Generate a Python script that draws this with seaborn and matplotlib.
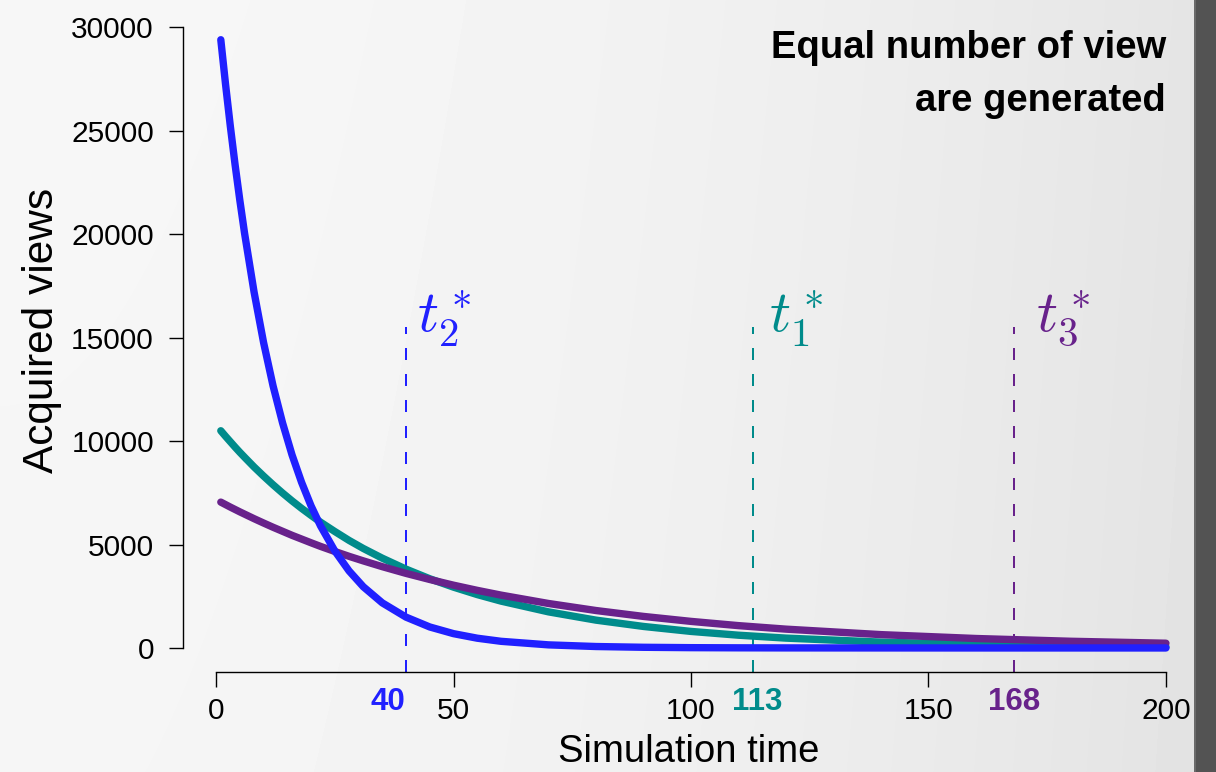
import numpy as np
import pandas as pd
import matplotlib
matplotlib.use("Agg")
import matplotlib.pyplot as plt
from matplotlib.patches import Rectangle
from matplotlib.transforms import blended_transform_factory
import seaborn as sns

# ---- data -------------------------------------------------------------
time = [1, 2, 3, 4, 5, 6, 8, 10, 12, 14, 16, 18, 20, 22, 25, 28, 31, 35,
        40, 45, 50, 55, 60, 70, 80, 90, 100, 110, 120, 140, 160, 180, 200]
views_video1 = [10500, 10230, 9970, 9710, 9460, 9220, 8750, 8310, 7890, 7490,
                7110, 6750, 6410, 6080, 5630, 5200, 4810, 4340,
                3810, 3345, 2940, 2580, 2265, 1745, 1345, 1040, 800, 617,
                476, 283, 168, 100, 59]
views_video2 = [29400, 27240, 25230, 23370, 21650, 20050, 17210, 14770, 12670, 10880,
                9330, 8010, 6870, 5900, 4690, 3725, 2960, 2180,
                1490, 1015, 692, 472, 322, 150, 70, 33, 15, 7,
                3, 1, 0, 0, 0]
views_video3 = [7050, 6930, 6810, 6695, 6580, 6470, 6250, 6040, 5835, 5640,
                5445, 5265, 5085, 4910, 4665, 4430, 4210, 3930,
                3605, 3310, 3035, 2785, 2555, 2150, 1810, 1525, 1285, 1080,
                910, 645, 458, 324, 230]

series_names = ["video 1", "video 2", "video 3"]
series_colors = ["#008B8B", "#2020FF", "#68228B"]
t_star = [113, 40, 168]
t_star_labels = [r"$t_1^*$", r"$t_2^*$", r"$t_3^*$"]
x_ticks = [0, 50, 100, 150, 200]
y_ticks = [0, 5000, 10000, 15000, 20000, 25000, 30000]
title_lines = ["Equal number of view", "are generated"]

# ---- style ------------------------------------------------------------
sns.set_theme(style="ticks")
plt.rcParams["font.family"] = ["Liberation Sans", "DejaVu Sans"]
plt.rcParams["mathtext.fontset"] = "cm"
plt.rcParams["text.color"] = "black"
plt.rcParams["axes.labelcolor"] = "black"
plt.rcParams["xtick.color"] = "black"
plt.rcParams["ytick.color"] = "black"

W, H = 1216, 772
fig = plt.figure(figsize=(W / 100, H / 100), dpi=100)

# soft grey backdrop
bg = fig.add_axes([0, 0, 1, 1], zorder=-5)
xx = np.linspace(0, 1, W)[None, :]
yy = np.linspace(0, 1, H)[:, None]
shade = 0.968 - 0.072 * (xx * W / 1194) ** 2 - 0.006 * yy
bg.imshow(np.clip(shade, 0, 1), cmap="gray", vmin=0, vmax=1,
          aspect="auto", extent=[0, 1, 0, 1], interpolation="bilinear")
bg.set_axis_off()

# plotting region
left, right, top, bottom = 183, 1199, 15.4, 672.3
ax = fig.add_axes([left / W, 1 - bottom / H, (right - left) / W, (bottom - top) / H])
ax.set_facecolor("none")

df = pd.DataFrame({
    "time": time * 3,
    "views": views_video1 + views_video2 + views_video3,
    "series": sum([[n] * len(time) for n in series_names], []),
})
palette = dict(zip(series_names, series_colors))
sns.lineplot(data=df, x="time", y="views", hue="series",
             hue_order=["video 1", "video 3", "video 2"], palette=palette,
             linewidth=5.3, solid_capstyle="round", solid_joinstyle="round",
             legend=False, ax=ax)

ax.set_xlim(-6.96, 206.96)
ax.set_ylim(-1176, 30576)
ymin = ax.get_ylim()[0]

# dashed markers at the t* times
for t, lab, col, dx in zip(t_star, t_star_labels, series_colors, [12, 8, 16]):
    ax.vlines(t, ymin, 15500, colors=col, linewidth=1.44,
              linestyles=[(0, (6, 7))], zorder=1)
    ax.annotate(lab, xy=(t, 15266), xytext=(dx, 0), textcoords="offset points",
                ha="left", va="baseline", color=col, fontsize=42)

# t* values below the time axis
trans = blended_transform_factory(ax.transData, ax.transAxes)
for t, col, dx in zip(t_star, series_colors, [3, -13, 0]):
    ax.annotate(str(t), xy=(t, -0.0445), xycoords=trans, xytext=(dx, 0),
                textcoords="offset points", ha="center", va="center",
                color=col, fontsize=22.5, fontweight="bold")

# axes in base-graphics style
for s in ["top", "right"]:
    ax.spines[s].set_visible(False)
ax.spines["left"].set_bounds(0, 30000)
ax.spines["bottom"].set_bounds(0, 200)
for s in ["left", "bottom"]:
    ax.spines[s].set_linewidth(1.0)
    ax.spines[s].set_color("black")
ax.set_xticks(x_ticks)
ax.set_yticks(y_ticks)
ax.set_xticklabels([str(v) for v in x_ticks])
ax.set_yticklabels([str(v) for v in y_ticks])
ax.tick_params(axis="x", length=10.8, width=1.0, pad=7, labelsize=21.5)
ax.tick_params(axis="y", length=10.1, width=1.0, pad=10.8, labelsize=21.5)

ax.set_xlabel("Simulation time", fontsize=27.5)
ax.xaxis.set_label_coords(0.498, -0.094)
ax.set_ylabel("Acquired views", fontsize=30.5, va="center")
ax.yaxis.set_label_coords(-0.139, 0.521)

# title in the upper right corner
fig.text(1166 / W, 1 - 58 / H, title_lines[0], ha="right", va="baseline",
         fontsize=27.5, fontweight="bold")
fig.text(1166 / W, 1 - 111 / H, title_lines[1], ha="right", va="baseline",
         fontsize=27.5, fontweight="bold")

# dark frame strip on the right
fig.add_artist(Rectangle((1194 / W, 0), 1 - 1194 / W, 1, transform=fig.transFigure,
                         facecolor="#535353", edgecolor="none", zorder=20))
fig.add_artist(Rectangle((1194 / W, 0), 2 / W, 1, transform=fig.transFigure,
                         facecolor="#6a6a6a", edgecolor="none", zorder=21))

fig.savefig("out.png", dpi=100)
